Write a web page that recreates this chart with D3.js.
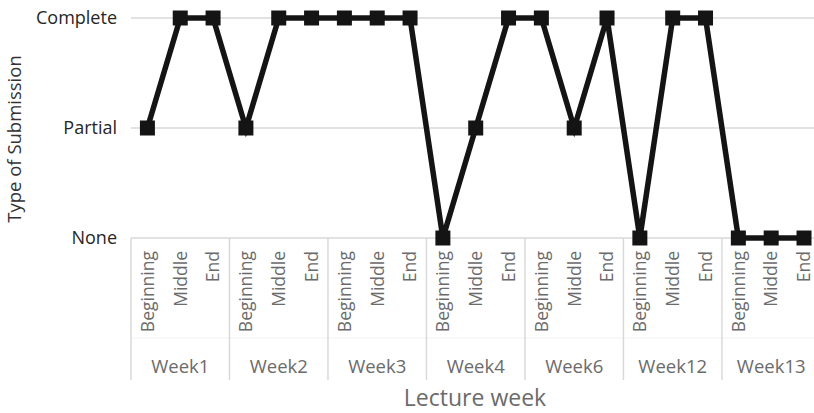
<!DOCTYPE html>
<html>
<head>
<meta charset="utf-8">
<script src="https://cdn.jsdelivr.net/npm/d3@7"></script>
<style>
  html, body { margin: 0; padding: 0; background: #fff; }
  svg { display: block; font-family: "Open Sans", "Liberation Sans", sans-serif; }
</style>
</head>
<body>
<svg id="chart" width="814" height="413"></svg>
<script>
// Submission levels, bottom to top
const levels = ["None", "Partial", "Complete"];
const weeks = ["Week1", "Week2", "Week3", "Week4", "Week6", "Week12", "Week13"];
const phases = ["Beginning", "Middle", "End"];

// Submission type per week, one entry per phase
const week1 = ["Partial", "Complete", "Complete"];
const week2 = ["Partial", "Complete", "Complete"];
const week3 = ["Complete", "Complete", "Complete"];
const week4 = ["None", "Partial", "Complete"];
const week6 = ["Complete", "Partial", "Complete"];
const week12 = ["None", "Complete", "Complete"];
const week13 = ["None", "None", "None"];
const submissions = [week1, week2, week3, week4, week6, week12, week13];

const points = [];
weeks.forEach((w, wi) => {
  phases.forEach((p, pi) => {
    points.push({ key: w + "|" + p, week: w, phase: p, level: submissions[wi][pi] });
  });
});

const svg = d3.select("#chart");
const plotLeft = 131, bandW = 32.83;
const plotRight = plotLeft + bandW * points.length;
const plotTop = 18, plotBase = 238;
const labelFont = "'Open Sans', sans-serif";

const x = d3.scaleBand().domain(points.map(d => d.key)).range([plotLeft, plotRight]).padding(0);
const y = d3.scalePoint().domain(levels).range([plotBase, plotTop]);

// Horizontal gridlines
svg.append("g").selectAll("line").data(levels).join("line")
  .attr("x1", plotLeft).attr("x2", 814)
  .attr("y1", d => y(d)).attr("y2", d => y(d))
  .attr("stroke", "#d9d9d9").attr("stroke-width", 1.5);

// Faint divider between phase labels and week labels
svg.append("line")
  .attr("x1", plotLeft).attr("x2", 814)
  .attr("y1", 338).attr("y2", 338)
  .attr("stroke", "#f2f2f2").attr("stroke-width", 1);

// Y axis labels
const yAxis = d3.axisLeft(y).tickSize(0).tickPadding(0);
svg.append("g")
  .attr("transform", `translate(${plotLeft - 14},0)`)
  .call(yAxis)
  .call(g => g.select(".domain").remove())
  .call(g => g.selectAll("text")
    .attr("font-size", 18)
    .attr("fill", "#262626")
    .attr("font-family", labelFont));

// Week group separators
const groupBounds = d3.range(weeks.length + 1).map(i => plotLeft + i * 3 * bandW);
svg.append("g").selectAll("line").data(groupBounds).join("line")
  .attr("x1", d => d).attr("x2", d => d)
  .attr("y1", plotBase).attr("y2", 380)
  .attr("stroke", "#d9d9d9").attr("stroke-width", 1.5);

// Phase labels (rotated)
const xAxis = d3.axisBottom(x).tickSize(0).tickFormat(k => k.split("|")[1]);
svg.append("g")
  .attr("transform", `translate(0,${plotBase})`)
  .call(xAxis)
  .call(g => g.select(".domain").remove())
  .call(g => g.selectAll("text")
    .attr("transform", "rotate(-90)")
    .attr("text-anchor", "end")
    .attr("dy", "0.36em")
    .attr("x", -13)
    .attr("y", 0)
    .attr("font-size", 17.5)
    .attr("fill", "#6b6b6b")
    .attr("font-family", labelFont));

// Week labels
svg.append("g").selectAll("text").data(weeks).join("text")
  .attr("x", (d, i) => plotLeft + (i * 3 + 1.5) * bandW)
  .attr("y", 373)
  .attr("text-anchor", "middle")
  .attr("font-size", 18.5)
  .attr("fill", "#6b6b6b")
  .text(d => d);

// Axis titles
svg.append("text")
  .attr("x", 475).attr("y", 406)
  .attr("text-anchor", "middle")
  .attr("font-size", 23)
  .attr("fill", "#6b6b6b")
  .text("Lecture week");

svg.append("text")
  .attr("transform", "translate(21,139) rotate(-90)")
  .attr("text-anchor", "middle")
  .attr("font-size", 18.5)
  .attr("fill", "#333")
  .text("Type of Submission");

// Line and markers
const cx = d => x(d.key) + x.bandwidth() / 2;
svg.append("path")
  .datum(points)
  .attr("fill", "none")
  .attr("stroke", "#141414")
  .attr("stroke-width", 5.5)
  .attr("stroke-linejoin", "miter")
  .attr("d", d3.line().x(cx).y(d => y(d.level)));

const m = 15;
svg.append("g").selectAll("rect").data(points).join("rect")
  .attr("x", d => cx(d) - m / 2)
  .attr("y", d => y(d.level) - m / 2)
  .attr("width", m).attr("height", m)
  .attr("fill", "#141414");
</script>
</body>
</html>
